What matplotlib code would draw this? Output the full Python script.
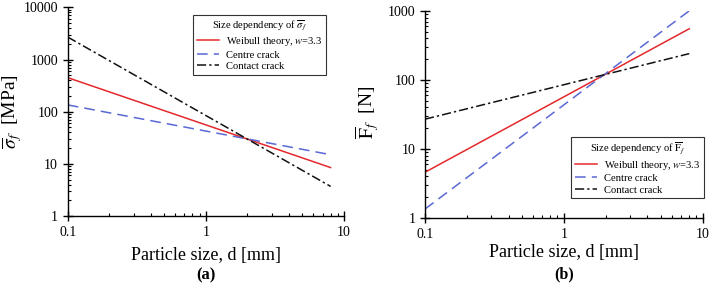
import numpy as np
import matplotlib
matplotlib.use("Agg")
import matplotlib.pyplot as plt
from matplotlib.ticker import LogLocator, FixedLocator, FixedFormatter, NullFormatter

# ====== data ======
d_mm = [0.1, 8.0]

stress_weibull = [450, 8.5]
stress_centre = [135, 15]
stress_contact = [2700, 3.7]

force_weibull = [4.6, 550]
force_centre = [1.35, 1000]
force_contact = [27, 240]

labels = ["Weibull theory, $\\mathit{w}$=3.3", "Centre crack", "Contact crack"]
x_ticks = [0.1, 1, 10]
x_ticklabels = ["0.1", "1", "10"]
ya_ticks = [1, 10, 100, 1000, 10000]
yb_ticks = [1, 10, 100, 1000]

# ====== style ======
plt.rcParams['font.family'] = 'serif'
plt.rcParams['font.serif'] = ['Liberation Serif', 'DejaVu Serif']
plt.rcParams['mathtext.fontset'] = 'stix'
plt.rcParams['font.size'] = 9

RED = '#e5282b'
BLUE = '#5a68d4'
BLACK = '#111111'

fig = plt.figure(figsize=(7.1, 2.85), dpi=100)
ax_a = fig.add_axes([0.0954, 0.242, 0.3891, 0.732])
ax_b = fig.add_axes([0.5986, 0.235, 0.3911, 0.727])


def style_axes(ax, yticks, ylim):
    ax.set_xscale('log')
    ax.set_yscale('log')
    ax.set_xlim(0.1, 10)
    ax.set_ylim(*ylim)
    for s in ['top', 'right']:
        ax.spines[s].set_visible(False)
    for s in ['left', 'bottom']:
        ax.spines[s].set_linewidth(1.0)
    ax.xaxis.set_major_locator(FixedLocator(x_ticks))
    ax.xaxis.set_major_formatter(FixedFormatter(x_ticklabels))
    ax.yaxis.set_major_locator(FixedLocator(yticks))
    ax.yaxis.set_major_formatter(FixedFormatter([str(v) for v in yticks]))
    ax.xaxis.set_minor_locator(LogLocator(base=10, subs=np.arange(2, 10)))
    ax.yaxis.set_minor_locator(LogLocator(base=10, subs=np.arange(2, 10)))
    ax.xaxis.set_minor_formatter(NullFormatter())
    ax.yaxis.set_minor_formatter(NullFormatter())
    ax.tick_params(which='major', direction='inout', length=7, width=1.0, labelsize=10)
    ax.tick_params(which='minor', direction='in', length=2.5, width=0.8)


def add_legend(ax, title, fs, **kw):
    leg = ax.legend(fontsize=fs, title=title, title_fontsize=fs,
                    frameon=True, fancybox=False, edgecolor='#333333', framealpha=1,
                    handlelength=2.1, handletextpad=0.7, borderpad=0.35,
                    labelspacing=0.2, borderaxespad=0, **kw)
    leg.get_frame().set_linewidth(0.8)
    return leg


# ---- (a) ----
ax_a.plot(d_mm, stress_weibull, color=RED, lw=1.1, label=labels[0])
ax_a.plot(d_mm, stress_centre, color=BLUE, lw=1.1, ls=(0, (7, 4)), label=labels[1])
ax_a.plot(d_mm, stress_contact, color=BLACK, lw=1.1, ls=(0, (6, 2, 1.5, 2)), label=labels[2])
style_axes(ax_a, ya_ticks, (1, 10000))
ax_a.set_xlabel("Particle size, d [mm]", fontsize=13)
ax_a.xaxis.set_label_coords(0.5, -0.15)
ax_a.set_ylabel(r"$\overline{\sigma}_{f}$  [MPa]", fontsize=14)
ax_a.yaxis.set_label_coords(-0.16, 0.5)
add_legend(ax_a, r"Size dependency of $\overline{\sigma}_{f}$", 7.6,
           loc='upper left', bbox_to_anchor=(0.4535, 0.963))
fig.text(0.29, 0.032, "(a)", fontsize=12, fontweight='bold', ha='center', va='center')

# ---- (b) ----
ax_b.plot(d_mm, force_weibull, color=RED, lw=1.1, label=labels[0])
ax_b.plot(d_mm, force_centre, color=BLUE, lw=1.1, ls=(0, (7, 4)), label=labels[1])
ax_b.plot(d_mm, force_contact, color=BLACK, lw=1.1, ls=(0, (6, 2, 1.5, 2)), label=labels[2])
style_axes(ax_b, yb_ticks, (1, 1000))
ax_b.set_xlabel("Particle size, d [mm]", fontsize=13)
ax_b.xaxis.set_label_coords(0.5, -0.125)
ax_b.set_ylabel(r"$\overline{\mathrm{F}}_{f}$  [N]", fontsize=14)
ax_b.yaxis.set_label_coords(-0.16, 0.51)
add_legend(ax_b, r"Size dependency of $\overline{\mathrm{F}}_{f}$", 7.6,
           loc='upper left', bbox_to_anchor=(0.526, 0.391))
fig.text(0.795, 0.036, "(b)", fontsize=11.5, fontweight='bold', ha='center', va='center')

plt.savefig("out.png", dpi=100)
